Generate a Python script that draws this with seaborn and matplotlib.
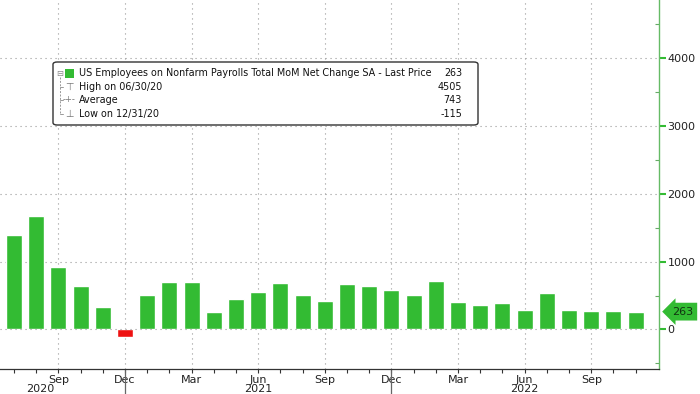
import matplotlib
matplotlib.use("Agg")
import matplotlib.pyplot as plt
from matplotlib.patches import FancyBboxPatch
from matplotlib.lines import Line2D
import seaborn as sns
import pandas as pd

# ---- data ----
months = ["Jul 2020", "Aug 2020", "Sep 2020", "Oct 2020", "Nov 2020", "Dec 2020",
          "Jan 2021", "Feb 2021", "Mar 2021", "Apr 2021", "May 2021", "Jun 2021",
          "Jul 2021", "Aug 2021", "Sep 2021", "Oct 2021", "Nov 2021", "Dec 2021",
          "Jan 2022", "Feb 2022", "Mar 2022", "Apr 2022", "May 2022", "Jun 2022",
          "Jul 2022", "Aug 2022", "Sep 2022", "Oct 2022", "Nov 2022"]
values = [1392, 1672, 920, 641, 331, -115,
          515, 697, 697, 255, 442, 549,
          688, 515, 417, 673, 638, 585,
          501, 711, 405, 364, 383, 290,
          535, 290, 265, 275, 263]
tick_pos = [2, 5, 8, 11, 14, 17, 20, 23, 26]
tick_labels = ["Sep", "Dec", "Mar", "Jun", "Sep", "Dec", "Mar", "Jun", "Sep"]
year_labels = ["2020", "2021", "2022"]
year_pos = [1.2, 11, 23]
year_breaks = [5, 17]
y_ticks = [0, 1000, 2000, 3000, 4000]
legend_title = "US Employees on Nonfarm Payrolls Total MoM Net Change SA - Last Price"
legend_rows = ["High on 06/30/20", "Average", "Low on 12/31/20"]
legend_vals = ["263", "4505", "743", "-115"]
last_price = 263

GREEN = "#33bb33"
RED = "#ee1111"

df = pd.DataFrame({"month": months, "value": values})
df["sign"] = ["pos" if v >= 0 else "neg" for v in values]

sns.set_theme(style="white")
plt.rcParams["font.family"] = ["DejaVu Sans"]

fig = plt.figure(figsize=(7, 3.94), dpi=100)
ax = fig.add_axes([0.0, 25 / 394, 659 / 700, 369 / 394])

sns.barplot(data=df, x="month", y="value", hue="sign", order=months,
            palette={"pos": GREEN, "neg": RED}, dodge=False, width=0.72,
            legend=False, ax=ax, zorder=3, saturation=1)

ax.set_xlim(-0.63, 29.05)
ax.set_ylim(-582, 4853)
ax.set_xlabel("")
ax.set_ylabel("")

# grid
for y in y_ticks:
    ax.axhline(y, color="#999999", lw=0.8, ls=(0, (1, 3.5)), zorder=1 if y else 4)
for x in tick_pos:
    ax.axvline(x, color="#999999", lw=0.8, ls=(0, (1, 3.5)), zorder=1)

# spines
for s in ["top", "left"]:
    ax.spines[s].set_visible(False)
ax.spines["right"].set_color("#66bb66")
ax.spines["right"].set_linewidth(1.0)
ax.spines["bottom"].set_color("#333333")
ax.spines["bottom"].set_linewidth(0.9)

# y axis on right
ax.yaxis.tick_right()
ax.set_yticks(y_ticks)
ax.set_yticklabels([str(v) for v in y_ticks])
ax.set_yticks([-500, 500, 1500, 2500, 3500, 4500], minor=True)
ax.tick_params(axis="y", which="major", right=True, left=False, length=5, width=1.5,
               color=GREEN, labelsize=8, pad=1, labelcolor="#222222")
ax.tick_params(axis="y", which="minor", right=True, left=False, length=3, width=0.8,
               color="#66aa66", direction="in")

# x axis
ax.set_xticks(tick_pos)
ax.set_xticklabels(tick_labels)
ax.set_xticks(list(range(0, 29)), minor=True)
ax.tick_params(axis="x", which="both", bottom=True, length=3, width=0.8,
               color="#333333", labelsize=8, pad=1, labelcolor="#222222")

# year labels and separators
trans = ax.get_xaxis_transform()
for lbl, xp in zip(year_labels, year_pos):
    ax.text(xp, -0.055, lbl, transform=trans, ha="center", va="center",
            fontsize=8, color="#222222", clip_on=False)
for xb in year_breaks:
    ax.add_line(Line2D([xb, xb], [0, -0.1], transform=trans, color="#666666",
                       lw=0.9, clip_on=False))

# last price callout
ax.annotate(str(last_price), xy=(1.0, last_price), xycoords=("axes fraction", "data"),
            xytext=(1.02, last_price), textcoords=("axes fraction", "data"),
            ha="left", va="center", fontsize=8, color="#113311",
            bbox=dict(boxstyle="larrow,pad=0.35", fc=GREEN, ec="none"),
            annotation_clip=False)

# legend box (figure pixel coords)
def fx(px):
    return px / 700
def fy(py):
    return 1 - py / 394

box = FancyBboxPatch((fx(53), fy(125)), fx(478) - fx(53), fy(62) - fy(125),
                     boxstyle="round,pad=0,rounding_size=0.006",
                     transform=fig.transFigure, fc="white", ec="#333333", lw=1.0,
                     zorder=10)
fig.add_artist(box)

rows_y = [73, 86.5, 100, 114]
fs = 6.95
fig.text(fx(60), fy(rows_y[0]), "\u229f", fontsize=6, color="#888888",
         ha="center", va="center", zorder=11)
fig.add_artist(FancyBboxPatch((fx(65), fy(rows_y[0] + 4.5)), fx(9), 9 / 394,
                              boxstyle="square,pad=0", transform=fig.transFigure,
                              fc=GREEN, ec="none", zorder=11))
fig.add_artist(Line2D([fx(60), fx(60)], [fy(77), fy(rows_y[3])],
                      transform=fig.transFigure, color="#999999", lw=0.7,
                      ls=(0, (2, 1.5)), zorder=11))
for ry in rows_y[1:]:
    fig.add_artist(Line2D([fx(60), fx(63)], [fy(ry), fy(ry)],
                          transform=fig.transFigure, color="#999999", lw=0.7, zorder=11))
icons = ["\u22a4", "-+-", "\u22a5"]
for ry, ic in zip(rows_y[1:], icons):
    fig.text(fx(69), fy(ry), ic, fontsize=6 if ic == "-+-" else 7, color="#777777",
             ha="center", va="center", zorder=11)

fig.text(fx(79), fy(rows_y[0]), legend_title, fontsize=fs, color="#111111",
         ha="left", va="center", zorder=11)
for ry, t in zip(rows_y[1:], legend_rows):
    fig.text(fx(79), fy(ry), t, fontsize=fs, color="#111111",
             ha="left", va="center", zorder=11)
for ry, v in zip(rows_y, legend_vals):
    fig.text(fx(462), fy(ry), v, fontsize=fs, color="#111111",
             ha="right", va="center", zorder=11)

fig.savefig("out.png", dpi=100)
